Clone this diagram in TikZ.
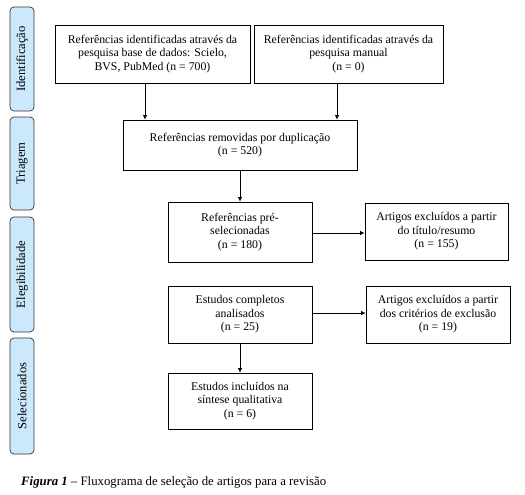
\documentclass[tikz,border=0pt]{standalone}
\usepackage{fontspec}
\setmainfont{Liberation Serif}
\usetikzlibrary{arrows.meta}
\definecolor{barblue}{RGB}{204,232,252}
\tikzset{
  flowbox/.style={draw=black, line width=0.8pt, align=center, inner sep=1pt,
    font=\fontsize{11.8}{13.6}\selectfont},
  sidebar/.style={draw=black!80, line width=0.7pt, fill=barblue, rounded corners=4pt,
    minimum width=24pt, inner sep=0pt},
  sidetext/.style={rotate=90, inner sep=0pt, font=\fontsize{12.6}{14}\selectfont},
  flowarrow/.style={line width=0.8pt, -{Latex[length=4.5pt,width=4.5pt]}}
}
\begin{document}
\begin{tikzpicture}[x=1pt,y=-1pt]
\useasboundingbox (0,0) rectangle (525,495);
% side bars
\node[sidebar, minimum height=104pt] (s1) at (22,59) {};
\node[sidetext] (s1t) at (s1.center) {Identificação};
\node[sidebar, minimum height=93pt] (s2) at (22,163.5) {};
\node[sidetext] (s2t) at (s2.center) {Triagem};
\node[sidebar, minimum height=115pt] (s3) at (22,274.5) {};
\node[sidetext] (s3t) at (s3.center) {Elegibilidade};
\node[sidebar, minimum height=116pt] (s4) at (22,396) {};
\node[sidetext] (s4t) at (s4.center) {Selecionados};
% boxes
\node[flowbox, minimum width=195pt, minimum height=58pt] (b1) at (152.5,54)
  {Referências identificadas através da\\pesquisa base de dados: Scielo,\\BVS, PubMed (n = 700)};
\node[flowbox, minimum width=189pt, minimum height=58pt] (b2) at (348.5,54)
  {Referências identificadas através da\\pesquisa manual\\(n = 0)};
\node[flowbox, minimum width=234pt, minimum height=50pt] (b3) at (240,145)
  {Referências removidas por duplicação\\(n = 520)};
\node[flowbox, minimum width=144pt, minimum height=60pt] (b4) at (240,232)
  {Referências pré-\\selecionadas\\(n = 180)};
\node[flowbox, minimum width=143pt, minimum height=57pt] (b5) at (436.5,231.5)
  {Artigos excluídos a partir\\do título/resumo\\(n = 155)};
\node[flowbox, minimum width=144pt, minimum height=57pt] (b6) at (240,314.5)
  {Estudos completos\\analisados\\(n = 25)};
\node[flowbox, minimum width=144pt, minimum height=57pt] (b8) at (438,314.5)
  {Artigos excluídos a partir\\dos critérios de exclusão\\(n = 19)};
\node[flowbox, minimum width=144pt, minimum height=56pt] (b7) at (240,401)
  {Estudos incluídos na\\síntese qualitativa\\(n = 6)};
% arrows
\draw[flowarrow] (b1.south -| 145,0) -- (b3.north -| 145,0);
\draw[flowarrow] (b2.south -| 337,0) -- (b3.north -| 337,0);
\draw[flowarrow] (b3) -- (b4);
\draw[flowarrow] (b4.east |- 0,233) -- (b5.west |- 0,233);
\draw[flowarrow] (b6.east |- 0,313) -- (b8.west |- 0,313);
\draw[flowarrow] (b6) -- (b7);
% caption
\node[anchor=west, inner sep=0pt, font=\fontsize{12.8}{14}\selectfont] (cap) at (21,482)
  {\textbf{\textit{Figura 1}} – Fluxograma de seleção de artigos para a revisão};
\end{tikzpicture}
\end{document}
